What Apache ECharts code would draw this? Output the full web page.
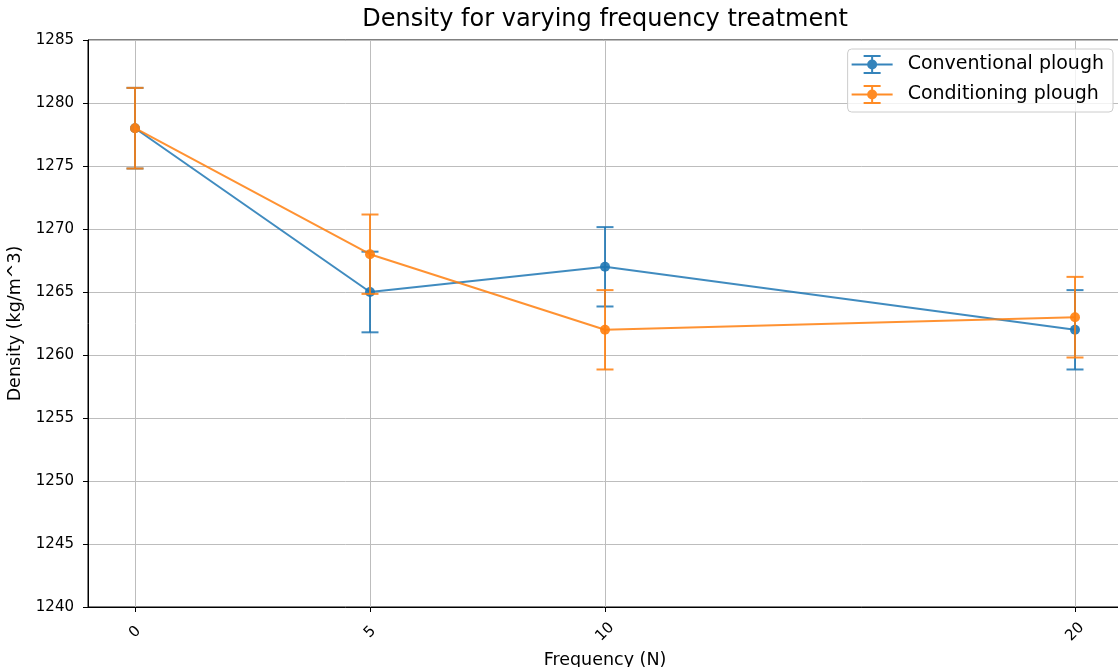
<!DOCTYPE html>
<html>
<head>
<meta charset="utf-8">
<script src="https://cdn.jsdelivr.net/npm/echarts@6/dist/echarts.min.js"></script>
<style>html,body{margin:0;padding:0;background:#fff}#c{width:1118px;height:667px}</style>
</head>
<body>
<div id="c"></div>
<script>
const frequencies = [0, 5, 10, 20];
const conventional = [1278, 1265, 1267, 1262];
const conventionalErr = [3.2, 3.2, 3.15, 3.15];
const conditioning = [1278, 1268, 1262, 1263];
const conditioningErr = [3.2, 3.15, 3.15, 3.2];
const xTicks = [0, 5, 10, 20];
const seriesNames = ['Conventional plough', 'Conditioning plough'];
const colors = ['#1f77b4', '#ff7f0e'];

const font = 'DejaVu Sans';
const legendIcon = 'path://M0 8.5H41V10.5H0Z M19.5 0H21.5V19H19.5Z M12 0H29V2H12Z M12 17H29V19H12Z M15.5 9.5A5 5 0 1 1 25.5 9.5A5 5 0 1 1 15.5 9.5Z';

function lineData(vals) { return frequencies.map((f, i) => [f, vals[i]]); }
function errData(vals, errs) { return frequencies.map((f, i) => [f, vals[i] - errs[i], vals[i] + errs[i]]); }

function errSeries(name, data, color, z) {
  return {
    type: 'custom',
    name: name + ' err',
    z: z,
    data: data,
    encode: { x: 0, y: [1, 2] },
    renderItem: function (params, api) {
      const x = api.value(0);
      const lo = api.coord([x, api.value(1)]);
      const hi = api.coord([x, api.value(2)]);
      const cw = 8.5;
      const style = { stroke: color, lineWidth: 2, opacity: 0.85 };
      return {
        type: 'group',
        children: [
          { type: 'line', shape: { x1: lo[0], y1: lo[1], x2: hi[0], y2: hi[1] }, style: style },
          { type: 'line', shape: { x1: lo[0] - cw, y1: lo[1], x2: lo[0] + cw, y2: lo[1] }, style: style },
          { type: 'line', shape: { x1: hi[0] - cw, y1: hi[1], x2: hi[0] + cw, y2: hi[1] }, style: style }
        ]
      };
    }
  };
}

function lineSeries(name, data, color, z) {
  return {
    type: 'line',
    name: name,
    z: z,
    data: data,
    symbol: 'circle',
    symbolSize: 10,
    color: color,
    lineStyle: { width: 2, color: color, opacity: 0.85 },
    itemStyle: { color: color, opacity: 0.9 },
    animation: false
  };
}

const chart = echarts.init(document.getElementById('c'));
chart.setOption({
  animation: false,
  color: colors,
  title: {
    text: 'Density for varying frequency treatment',
    left: 605,
    textAlign: 'center',
    top: 8,
    padding: 0,
    textStyle: { fontFamily: font, fontSize: 24, fontWeight: 'normal', color: '#000' }
  },
  legend: {
    orient: 'vertical',
    right: 5,
    top: 49,
    padding: [6, 9, 8, 4],
    itemGap: 11,
    itemWidth: 41,
    itemHeight: 19,
    icon: legendIcon,
    borderColor: '#cccccc',
    borderWidth: 1,
    borderRadius: 4,
    backgroundColor: 'rgba(255,255,255,0.8)',
    textStyle: { fontFamily: font, fontSize: 19, color: '#000', padding: [0, 0, 0, 10] },
    data: seriesNames
  },
  grid: {
    left: 88, top: 40, right: -4, bottom: 60,
    outerBoundsMode: 'none',
    containLabel: false,
    show: true, borderColor: '#000', borderWidth: 1, backgroundColor: 'transparent'
  },
  xAxis: {
    type: 'value',
    min: -1, max: 21,
    name: 'Frequency (N)',
    nameLocation: 'middle',
    nameGap: 40,
    nameTextStyle: { fontFamily: font, fontSize: 17.5, color: '#000' },
    axisLine: { show: true, onZero: false, lineStyle: { color: '#000', width: 1 } },
    axisTick: { show: true, customValues: xTicks, length: 5, lineStyle: { color: '#000' } },
    axisLabel: {
      customValues: xTicks, rotate: 45, align: 'center', verticalAlign: 'middle', margin: 25,
      fontFamily: font, fontSize: 15, color: '#000'
    },
    splitLine: { show: true, lineStyle: { color: '#bdbdbd', width: 1 } }
  },
  yAxis: {
    type: 'value',
    min: 1240, max: 1285, interval: 5,
    name: 'Density (kg/m^3)',
    nameLocation: 'middle',
    nameGap: 61,
    nameTextStyle: { fontFamily: font, fontSize: 17.5, color: '#000' },
    axisLine: { show: true, onZero: false, lineStyle: { color: '#000', width: 1 } },
    axisTick: { show: true, length: 5, lineStyle: { color: '#000' } },
    axisLabel: { margin: 14, fontFamily: font, fontSize: 15, color: '#000', formatter: function (v) { return String(v); } },
    splitLine: { show: true, lineStyle: { color: '#bdbdbd', width: 1 } }
  },
  series: [
    errSeries(seriesNames[0], errData(conventional, conventionalErr), colors[0], 2),
    lineSeries(seriesNames[0], lineData(conventional), colors[0], 3),
    errSeries(seriesNames[1], errData(conditioning, conditioningErr), colors[1], 4),
    lineSeries(seriesNames[1], lineData(conditioning), colors[1], 5)
  ]
});
</script>
</body>
</html>
